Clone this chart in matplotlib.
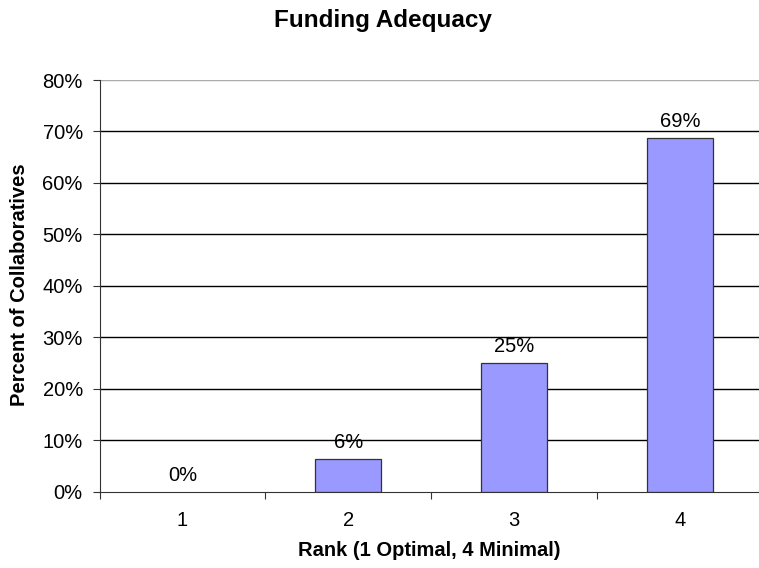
import matplotlib
matplotlib.use("Agg")
import matplotlib.pyplot as plt
from matplotlib.ticker import FixedLocator, FuncFormatter

categories = ["1", "2", "3", "4"]
values = [0.0, 6.25, 25.0, 68.75]
labels = ["0%", "6%", "25%", "69%"]
yticks = [0, 10, 20, 30, 40, 50, 60, 70, 80]

plt.rcParams['font.family'] = ['Liberation Sans', 'DejaVu Sans']

fig = plt.figure(figsize=(7.59, 5.68), dpi=100)
ax = fig.add_axes([99.5/759, 1-491.5/568, (763-99.5)/759, (491.5-80)/568])

x = list(range(len(categories)))
bars = ax.bar(x, values, width=0.4, color="#9999FF", edgecolor="#333333", linewidth=0.9, zorder=3)
for b, v in zip(bars, values):
    if v == 0:
        b.set_linewidth(0)
for xi, v, lab in zip(x, values, labels):
    ax.annotate(lab, (xi, v), xytext=(0, 5), textcoords="offset points",
                ha="center", va="bottom", fontsize=14.5, color="black")

ax.set_xlim(-0.5, len(categories) - 0.5)
ax.set_ylim(0, 80)
ax.set_yticks(yticks)
ax.yaxis.set_major_formatter(FuncFormatter(lambda v, p: f"{int(v)}%"))
for t in yticks[1:-1]:
    ax.axhline(t, color="black", linewidth=1.0, zorder=1)
ax.axhline(80, color="#aaaaaa", linewidth=1.0, zorder=1)

ax.xaxis.set_major_locator(FixedLocator([i + 0.5 for i in range(-1, len(categories))]))
ax.xaxis.set_major_formatter(FuncFormatter(lambda v, p: ""))
ax.set_xticks(x, minor=True)
ax.set_xticklabels(categories, minor=True, fontsize=14.5)
ax.tick_params(axis="x", which="minor", length=0, pad=14)
ax.tick_params(axis="x", which="major", length=5, direction="out", color="#333333")
ax.tick_params(axis="y", length=5, direction="out", labelsize=14.5, color="#333333", pad=7)

for s in ["top", "right"]:
    ax.spines[s].set_visible(False)
ax.spines["left"].set_color("#333333")
ax.spines["bottom"].set_color("#333333")
ax.spines["left"].set_zorder(4)
ax.spines["bottom"].set_zorder(4)

fig.text(383/759, 1-21/568, "Funding Adequacy", ha="center", va="center",
         fontsize=17.5, fontweight="bold")
fig.text(429/759, 1-551/568, "Rank (1 Optimal, 4 Minimal)", ha="center", va="center",
         fontsize=14.5, fontweight="bold")
fig.text(20/759, 1-285/568, "Percent of Collaboratives", ha="center", va="center",
         rotation=90, fontsize=14.5, fontweight="bold")

fig.savefig("out.png", dpi=100)
